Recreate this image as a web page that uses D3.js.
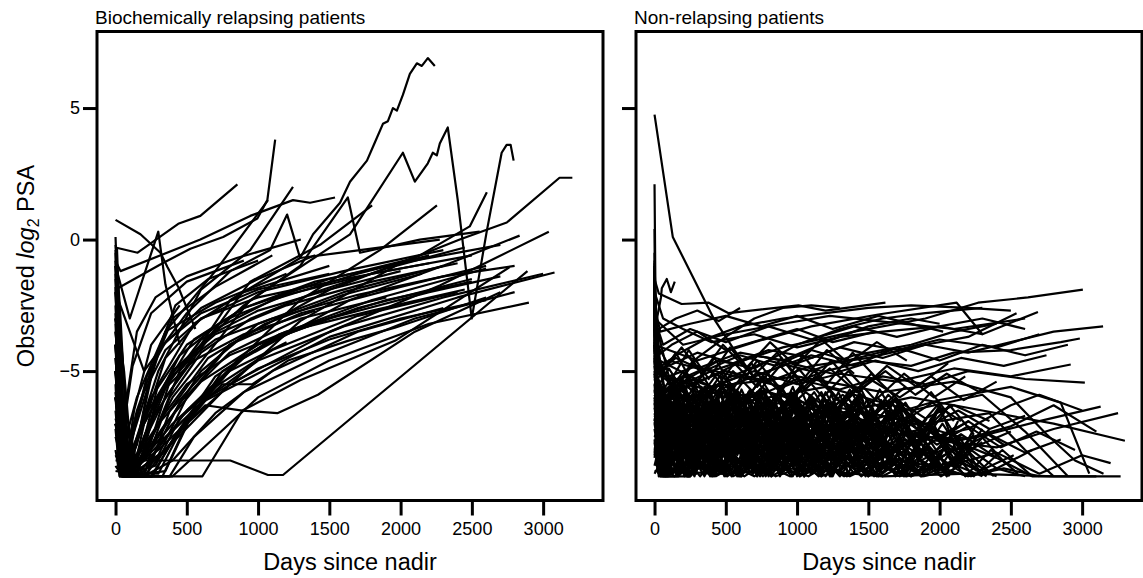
<!DOCTYPE html>
<html lang="en">
<head>
    <meta charset="UTF-8">
    <title>Observed log2 PSA by days since nadir</title>

    <!-- Load d3.js -->
    <script src="https://d3js.org/d3.v7.min.js"></script>

    <style>
        body { margin: 0; background: #ffffff; }
        svg text { font-family: "Liberation Sans", Arial, sans-serif; fill: #000000; }
    </style>
</head>
<body>

<div id="chart"></div>

<script>

    // ---- tick labels / titles ----
    var xTicks = [0, 500, 1000, 1500, 2000, 2500, 3000];
    var yTicks = [-5, 0, 5];
    var panelTitles = ["Biochemically relapsing patients", "Non-relapsing patients"];
    var xTitle = "Days since nadir";

    // ---- one array per patient: [days since nadir, observed log2 PSA] ----
    var relapsingPatients = [
        [[0,-3.5],[100,-8.8],[245,-6.9],[805,-2.3],[1295,-0.7],[1386,0.2],[1575,1.4],[1645,2.2],[1764,3.0],[1820,3.7],[1876,4.4],[1911,4.5],[1946,5.0],[1974,4.9],[2016,5.5],[2065,6.3],[2114,6.7],[2149,6.6],[2191,6.9],[2240,6.6]],
        [[0,-5],[120,-8.9],[400,-6],[945,-2.3],[1645,0.2],[2016,3.3],[2100,2.2],[2191,2.9],[2226,3.3],[2254,3.2],[2275,3.65],[2331,4.26],[2401,1.5],[2499,-3.0],[2604,0.3],[2709,3.3],[2744,3.6],[2772,3.6],[2793,3.0]],
        [[0,-1.9],[330,-0.9],[525,-0.35],[755,0.1],[995,0.8],[1065,1.5],[1120,3.8]],
        [[0,0.75],[175,0.2],[315,-0.5],[365,-1.05],[440,-1.8],[560,-3.4]],
        [[0,-0.3],[155,-0.5],[440,0.6],[595,0.9],[855,2.1]],
        [[0,-4],[90,-8],[350,-3.5],[700,-1.2],[1070,1.5]],
        [[0,-6],[60,-9],[300,-5],[600,-1.9],[945,-0.4],[1245,2.0]],
        [[0,-2],[200,-5],[500,-2.8],[805,-1.2],[1085,-0.4],[1204,0.95],[1295,-0.7],[1715,-0.4],[2275,0]],
        [[0,-0.8],[35,-1.2],[595,0],[945,0.9],[1245,1.5],[1365,1.4],[1540,1.6]],
        [[0,-6],[100,-9],[400,-5],[900,-2.5],[1295,-1],[1630,1.6],[1715,-0.5],[2135,0],[2555,0.3]],
        [[0,-7],[80,-9],[350,-6],[945,-1.6],[1435,-0.2],[1800,1.3]],
        [[0,-5],[150,-9],[500,-6.5],[1295,-2.3],[1855,-0.4],[2255,1.3]],
        [[0,-4],[60,-9],[300,-7],[800,-4],[1505,-1.9],[2135,-0.6],[2485,0.5],[2605,1.8]],
        [[0,-7],[200,-9],[500,-7],[1295,-3.1],[1995,-0.9],[2415,0],[2745,0.65],[3115,2.35],[3205,2.35]],
        [[0,-3],[100,-9],[350,-8],[800,-5.5],[1505,-3.5],[2275,-1.75],[3040,0.3]],
        [[0,-8.4],[805,-8.4],[1070,-8.95],[1175,-8.95],[2890,-1.2]],
        [[0,-6],[90,-9],[400,-7],[900,-4.5],[1645,-2.3],[2345,-0.9],[2835,0.15]],
        [[0,-7],[105,-9],[610,-9],[890,-6.5],[1295,-5.35],[1960,-3.85],[2765,-1.05]],
        [[0,-5],[80,-9],[600,-6.2],[1500,-3.7],[2400,-2.2],[3080,-1.25]],
        [[0,-5],[60,-9],[300,-8],[630,-6.3],[890,-6.5],[1135,-6.6],[1420,-5.9],[2100,-3.5],[2700,-2]],
        [[0,-4],[50,-8.5],[350,-7.5],[750,-5.5],[960,-5.5],[1210,-4.6],[1630,-3.85],[1960,-3.35],[2600,-2.2]],
        [[0,-2.5],[40,-7],[120,-9],[300,-7.5],[600,-5],[1000,-3.2],[1600,-2],[2300,-1]],
        [[0,-1],[30,-5],[70,-9],[250,-6],[500,-4],[900,-2.6],[1400,-1.6],[2000,-0.9],[2700,-0.2]],
        [[0,-4.5],[60,-8.9],[200,-8.9],[450,-6.2],[800,-4.3],[1300,-3],[1900,-2.2]],
        [[0,-6.5],[40,-9],[330,-9],[500,-7],[750,-5],[1100,-3.8],[1700,-2.6],[2500,-1.5]],
        [[0,-0.5],[20,-4],[50,-8],[150,-6],[350,-3.5],[700,-2.4],[1200,-1.3]],
        [[0,-3],[50,-6],[100,-9],[260,-9],[400,-7.6],[700,-5.2],[1150,-3.6],[1800,-2.3],[2600,-1.1]],
        [[0,-7.5],[70,-9],[180,-8],[300,-5.5],[550,-3.2],[900,-2],[1500,-1]],
        [[0,-5.5],[30,-9],[150,-7.8],[250,-5],[400,-3],[700,-1.8],[1100,-0.6]],
        [[0,-8.2],[90,-9],[380,-9],[550,-7.5],[900,-5.8],[1400,-4.5],[2100,-3],[2800,-2]],
        [[0,-2],[60,-8.5],[160,-9],[350,-8],[600,-6.2],[1000,-4.6],[1600,-3.3],[2300,-2.2],[3000,-1.3]],
        [[0,-1.5],[25,-3.5],[60,-7],[120,-4.8],[250,-2.8],[500,-1.6],[900,-0.8]],
        [[0,-4],[50,-9],[220,-9],[380,-6.5],[650,-4.5],[1050,-3.2],[1600,-2.1],[2150,-1.3]],
        [[0,-6],[40,-9],[120,-9],[200,-7],[400,-5],[700,-3.6],[1200,-2.5],[1800,-1.6],[2400,-0.9]],
        [[0,-3.5],[80,-9],[400,-9],[600,-8],[1000,-6],[1500,-4.6],[2200,-3.2],[2900,-2.4]],
        [[0,-7],[60,-8.5],[150,-6.5],[300,-4.2],[600,-2.6],[1000,-1.5],[1400,-0.6]],
        [[0,-5],[40,-9],[280,-8.6],[450,-6.8],[700,-5.6],[1100,-4.2],[1700,-2.9],[2400,-2]],
        [[0,-0.2],[30,-2.5],[70,-6.5],[160,-8.8],[300,-6],[550,-3.8],[900,-2.6],[1500,-1.5],[2100,-0.7]],
        [[0,-8.6],[50,-9],[250,-9],[420,-7.5],[650,-6],[1000,-4.9],[1500,-3.8],[2000,-3],[2600,-2.3]],
        [[0,-2],[50,-4.5],[90,-8.5],[200,-7],[350,-4.5],[600,-3],[1000,-2],[1600,-1.2],[2300,-0.4]],
        [[0,-6.8],[100,-9],[300,-8.2],[500,-6],[800,-4],[1300,-2.8],[2000,-1.8],[2600,-1]],
        [[0,-4],[30,-8],[80,-9],[180,-7.2],[320,-5.8],[550,-4.6],[900,-3.6],[1400,-2.7]],
        [[0,-1],[40,-6],[90,-9],[230,-8],[380,-5.4],[600,-3.8],[1000,-2.7],[1500,-1.9],[2000,-1.2]],
        [[0,-7],[50,-9],[350,-8.8],[550,-6.5],[850,-4.6],[1250,-3.4],[1900,-2.3],[2500,-1.6]],
        [[0,-3],[60,-5],[120,-8.9],[300,-8.9],[480,-7],[800,-5],[1200,-3.9]],
        [[0,-5],[35,-8],[80,-6],[150,-3.5],[280,-2.2],[500,-1.4],[850,-0.7],[1300,0]],
        [[0,-8],[30,-9],[200,-9],[260,-7.8],[380,-6],[600,-4.3],[950,-3],[1400,-2],[1900,-1.1],[2450,-0.3]],
        [[0,-2.8],[40,-8.5],[100,-9],[200,-8],[320,-6.8],[500,-5.5],[800,-4.4],[1200,-3.5],[1800,-2.7],[2450,-1.9]],
        [[0,-6],[70,-9],[140,-7],[220,-5.2],[350,-3.9],[600,-2.8],[1000,-1.9],[1500,-1.3]],
        [[0,-4.5],[50,-8.2],[130,-9],[300,-7],[450,-5],[700,-3.4],[1100,-2.3],[1700,-1.3],[2200,-0.6]],
        [[0,-1.8],[20,-5],[60,-9],[110,-7.5],[200,-5.8],[350,-4.2],[600,-3],[1000,-2.2],[1600,-1.5],[2200,-0.9]],
        [[0,-7.2],[30,-9],[100,-8.2],[220,-6.6],[400,-5],[700,-3.8],[1100,-3],[1700,-2.1],[2300,-1.4],[2800,-1]],
        [[0,-3.2],[30,-7.5],[60,-9],[150,-9],[280,-6.2],[450,-4.4],[750,-3.1],[1200,-2.1],[1800,-1.3],[2500,-0.6]],
        [[0,-0.4],[15,-3],[40,-7.8],[90,-9],[180,-7],[280,-4.5],[420,-2.5],[650,-1.5],[1000,-0.8]],
        [[0,-5.8],[60,-9],[160,-8.5],[350,-7],[600,-5.4],[1000,-4],[1500,-3],[2200,-2],[2700,-1.4]],
        [[0,-8.8],[200,-9],[400,-8.4],[700,-6.6],[1100,-5],[1700,-3.5],[2300,-2.6]],
        [[0,0.1],[20,-3],[45,-7],[80,-9],[150,-8.5]],
        [[0,-0.8],[25,-6],[50,-9],[120,-9],[200,-7.5],[350,-5.5],[600,-4]],
        [[10,-0.3],[35,-4],[70,-8.8],[130,-6.5],[250,-4],[450,-2.5]],
        [[0,-1.3],[15,-8],[40,-5],[60,-8.9],[110,-9]],
        [[0,-1],[100,-3],[300,0.3],[350,-1.7],[450,-4]]
    ];

    var nonRelapsingPatients = [
        [[0,4.75],[128,0.1],[415,-3.0],[560,-4.2],[750,-5.6],[1000,-6.5]],
        [[0,2.1],[8,-3],[20,-7],[100,-8.5],[300,-8.9]],
        [[0,-3.5],[45,-2.2],[51,-1.85],[86,-1.5],[115,-2.0],[142,-1.6]],
        [[0,-1.5],[30,-2.05],[190,-2.45],[380,-2.4],[520,-2.8],[1010,-2.5],[1200,-2.7],[1620,-2.4]],
        [[0,-4],[300,-4.6],[700,-3.9],[1100,-3.3],[1570,-2.85],[2120,-2.4],[2300,-3.6],[2690,-2.75]],
        [[0,-6],[400,-5],[900,-4.1],[1400,-3.5],[1900,-3.0],[2270,-2.4],[2620,-2.2],[3005,-1.9]],
        [[0,-2],[60,-3],[200,-3.4],[400,-3.9],[700,-3.6],[1000,-4.1],[1300,-3.7],[1600,-3.5],[2000,-3.3],[2300,-3.6]],
        [[0,-5],[150,-4.4],[350,-3.8],[600,-3.3],[900,-3.0],[1200,-2.8],[1500,-2.6],[1800,-2.5],[2200,-2.6],[2500,-2.7]],
        [[0,-1],[20,-4],[100,-4.8],[300,-4.3],[550,-4.7],[800,-4.2],[1100,-4.5],[1400,-3.9],[1700,-4.2],[2000,-3.8],[2400,-4.1],[2700,-3.6]],
        [[0,-6],[200,-5.4],[450,-4.6],[700,-4.9],[1000,-4.0],[1300,-3.4],[1600,-3.0],[1900,-2.8],[2300,-2.6]],
        [[0,-3],[100,-5.2],[300,-4.8],[500,-5.3],[800,-4.6],[1100,-5.0],[1400,-4.4],[1800,-4.0],[2100,-3.5],[2400,-3.2]],
        [[0,-4],[80,-6],[250,-5.5],[500,-5.0],[800,-5.4],[1100,-4.8],[1500,-4.5],[1900,-4.0],[2200,-3.7],[2540,-2.8]],
        [[0,-2.5],[40,-3.5],[250,-3.2],[500,-2.9],[750,-3.3],[1000,-2.9],[1250,-3.4],[1570,-2.9],[2025,-3.5]],
        [[0,-3],[200,-4],[500,-3.6],[900,-3.2],[1230,-2.9],[1570,-3.1],[2100,-3.4],[2600,-3.0]],
        [[0,-6.5],[150,-5.8],[400,-5.2],[700,-4.4],[1000,-4.7],[1300,-4.1],[1600,-4.5],[1900,-4.0],[2200,-4.3],[2500,-3.9],[2800,-3.5],[3147,-3.3]],
        [[0,-5],[300,-5.8],[600,-5.2],[900,-5.6],[1200,-5.0],[1500,-4.6],[1800,-4.8],[2100,-4.3],[2500,-4.2],[2850,-3.9],[2984,-3.76]],
        [[0,-7],[100,-6],[300,-4.5],[500,-3.7],[700,-3.0],[900,-2.6],[1100,-2.5],[1300,-2.6]],
        [[0,-3.5],[150,-3.0],[300,-2.7],[450,-3.1],[600,-2.6]],
        [[0,-4.5],[120,-4.0],[300,-3.5],[500,-4.2],[750,-3.8],[1000,-3.4],[1250,-3.9],[1550,-3.5]],
        [[0,-8],[200,-6.4],[500,-5.6],[800,-5.0],[1100,-4.4],[1400,-4.8],[1700,-4.1],[2000,-4.6],[2300,-4.0],[2600,-4.4],[2900,-4.0]],
        [[0,-5.5],[100,-4.6],[300,-4.9],[600,-4.3],[900,-4.6],[1200,-3.9],[1500,-3.3],[1800,-3.0],[2000,-3.2]],
        [[0,-6],[200,-5.2],[400,-5.6],[700,-5.0],[1000,-5.5],[1300,-5.1],[1700,-5.4],[2100,-4.9],[2500,-5.2],[2920,-4.75]],
        [[0,-2],[30,-5],[150,-4.5],[350,-5],[600,-4.4],[850,-4.8],[1100,-4.2],[1350,-4.6],[1650,-4.2]],
        [[0,-7.5],[150,-6.2],[400,-5.7],[700,-6.0],[1000,-5.3],[1300,-5.7],[1600,-5.2],[1900,-5.5],[2200,-5.0],[2600,-5.3],[3019,-5.44]],
        [[0,-3],[60,-4],[250,-3.4],[500,-3.9],[800,-3.3],[1100,-3.8],[1400,-3.3],[1700,-3.7],[2000,-3.3],[2300,-3.0],[2600,-3.4]],
        [[0,-4],[100,-5.5],[350,-4.9],[650,-5.3],[950,-4.7],[1250,-5.1],[1550,-4.6],[1850,-5.0],[2150,-4.5],[2450,-4.8],[2750,-4.4]],
        [[0,-3.4],[40,-5.2],[150,-4.3],[280,-5.6],[420,-4.5],[570,-5.8],[720,-4.6],[880,-5.7],[1040,-4.4],[1210,-5.5],[1390,-4.3],[1580,-5.4]],
        [[0,-5.8],[100,-4.9],[230,-6.0],[370,-4.8],[520,-5.9],[680,-4.7],[840,-6.1],[1010,-4.9],[1180,-6.0],[1360,-5.0],[1550,-6.1],[1750,-5.1],[1960,-6.0],[2180,-5.2]],
        [[0,-2.8],[20,-4.6],[110,-5.4],[240,-4.2],[380,-5.3],[530,-4.1],[690,-5.2],[860,-4.3],[1030,-5.4],[1210,-4.2],[1400,-5.1]],
        [[0,-6.4],[140,-5.3],[290,-6.2],[440,-5.1],[600,-6.3],[770,-5.2],[940,-6.1],[1120,-5.0],[1310,-6.2],[1510,-5.3],[1720,-6.0],[1940,-5.2],[2170,-6.1],[2400,-5.4]],
        [[0,-4.3],[60,-5.0],[190,-4.1],[330,-5.1],[480,-4.0],[640,-4.9],[810,-3.9],[990,-4.8],[1170,-3.8],[1360,-4.7],[1560,-3.9],[1770,-4.6]],
        [[0,-5.1],[80,-6.1],[200,-5.0],[330,-6.2],[470,-5.1],[620,-6.3],[780,-5.0],[950,-6.1],[1130,-5.2],[1320,-6.3],[1520,-5.1],[1730,-6.2]],
        [[0,-3.9],[30,-4.8],[140,-5.7],[270,-4.6],[410,-5.8],[560,-4.7],[720,-5.6],[890,-4.5],[1060,-5.7],[1240,-4.6],[1430,-5.8],[1630,-4.8],[1840,-5.6],[2060,-4.7]],
        [[0,-6.9],[120,-5.9],[260,-5.2],[400,-6.1],[550,-5.0],[710,-5.9],[880,-4.8],[1050,-5.7],[1230,-4.9],[1420,-5.8],[1620,-5.0],[1830,-5.9],[2050,-5.1],[2280,-5.8]],
        [[0,-3],[30,-7.5],[150,-8.6],[300,-7.2],[450,-8.8],[600,-7.6],[800,-8.4],[1000,-7.0],[1200,-8.2],[1400,-7.4],[1600,-8.7],[1800,-7.8],[2000,-8.5]],
        [[0,-5],[50,-8.9],[200,-7.8],[350,-6.4],[500,-7.5],[700,-6.8],[900,-8.0],[1100,-6.6],[1300,-7.6],[1500,-6.9],[1700,-8.1],[1900,-7.2],[2200,-8.0],[2500,-7.3]],
        [[0,-1.5],[20,-6],[60,-9],[250,-9],[400,-8.2],[550,-9],[750,-8.5],[950,-9],[1150,-8.3],[1350,-9],[1550,-8.6],[1800,-9],[2100,-8.4],[2400,-9]],
        [[0,-6.5],[100,-7.4],[250,-6.2],[400,-7.0],[550,-5.9],[700,-6.8],[850,-6.0],[1000,-7.1],[1200,-6.3],[1400,-7.3],[1600,-6.4],[1800,-7.0]],
        [[0,-4],[40,-8],[120,-7],[250,-8.5],[400,-7.3],[550,-8.9],[700,-7.9],[900,-8.8],[1050,-7.5],[1250,-8.4],[1450,-7.2],[1650,-8.1],[1850,-7.4],[2050,-8.6],[2300,-7.7]],
        [[0,-7],[60,-9],[180,-8.1],[320,-9],[480,-7.8],[640,-8.6],[800,-7.4],[960,-8.3],[1120,-7.1],[1300,-8.0],[1480,-7.5],[1660,-8.8],[1850,-8.0],[2050,-8.9]],
        [[0,-2.5],[15,-5.5],[80,-6.6],[220,-5.8],[380,-6.9],[520,-6.2],[680,-7.3],[850,-6.4],[1020,-7.2],[1200,-6.1],[1380,-6.8],[1560,-6.0],[1750,-6.9],[1950,-6.2],[2150,-6.9]],
        [[0,-8],[80,-8.8],[200,-7.3],[350,-8.1],[500,-6.9],[650,-7.8],[820,-6.7],[1000,-7.7],[1180,-8.9],[1350,-7.9],[1520,-8.5],[1700,-7.6],[1880,-8.3]],
        [[0,-3.5],[25,-7],[100,-6.2],[200,-7.8],[330,-6.6],[460,-7.9],[600,-7.2],[760,-8.3],[920,-7.4],[1080,-8.6],[1240,-7.7],[1400,-8.9],[1600,-8.1],[1800,-9],[2000,-8.3],[2200,-9]],
        [[0,-5.8],[90,-6.8],[230,-6.0],[370,-7.1],[520,-6.5],[670,-5.8],[830,-6.7],[990,-6.0],[1150,-6.6],[1320,-5.9],[1500,-6.7],[1700,-6.1],[1900,-6.8],[2100,-6.3],[2350,-6.9]],
        [[0,-1],[10,-4],[30,-8.5],[140,-9],[260,-8.4],[400,-9],[540,-8.2],[690,-8.9],[840,-8.0],[1000,-8.8],[1160,-7.9],[1330,-8.7],[1500,-7.8],[1680,-8.5]],
        [[0,-7.5],[120,-6.5],[260,-7.6],[400,-6.3],[540,-7.4],[690,-6.5],[850,-7.6],[1010,-6.8],[1170,-7.8],[1350,-6.9],[1530,-7.9],[1720,-7.0],[1920,-7.8],[2120,-7.1]],
        [[0,-4.5],[30,-8.8],[110,-8.0],[230,-9],[360,-8.3],[500,-9],[650,-8.0],[820,-8.9],[980,-8.1],[1150,-9],[1320,-8.2],[1500,-9],[1690,-8.4],[1880,-9],[2080,-8.5],[2300,-9]],
        [[0,-6],[50,-7.2],[150,-6.4],[280,-7.5],[420,-6.8],[560,-8.0],[710,-7.1],[870,-8.2],[1030,-7.3],[1190,-8.0],[1360,-7.0],[1540,-7.7],[1730,-6.8],[1930,-7.5]],
        [[0,-2],[40,-4.8],[90,-6.2],[200,-5.6],[340,-6.6],[480,-5.8],[630,-6.9],[780,-6.2],[940,-7.2],[1100,-6.4],[1270,-7.4],[1440,-6.5],[1620,-7.4],[1800,-6.7],[2000,-7.6],[2200,-6.9],[2450,-7.8]],
        [[0,-8.5],[100,-9],[220,-8.0],[350,-8.7],[480,-7.7],[620,-8.6],[760,-7.6],[910,-8.4],[1070,-7.4],[1230,-8.3],[1400,-7.3],[1580,-8.2],[1760,-7.3],[1950,-8.1],[2150,-7.4],[2400,-8.3]],
        [[0,-5],[70,-5.8],[180,-5.2],[310,-6.1],[450,-5.5],[590,-6.4],[740,-5.7],[900,-6.6],[1060,-5.8],[1230,-6.5],[1400,-5.7],[1580,-6.4],[1760,-5.6]],
        [[0,-3],[20,-6.5],[70,-7.8],[190,-7.0],[320,-8.2],[460,-7.4],[600,-8.5],[750,-7.5],[900,-8.6],[1060,-7.6],[1220,-8.4],[1390,-7.5],[1570,-8.3],[1760,-7.6],[1960,-8.4],[2170,-7.8],[2400,-8.7],[2650,-8.0]],
        [[0,-6.8],[80,-8.2],[200,-7.4],[330,-8.6],[460,-7.8],[600,-9],[750,-8.2],[910,-8.8],[1070,-7.9],[1240,-8.7],[1420,-7.9],[1600,-8.9],[1790,-8.1],[1990,-8.8],[2200,-8.2]],
        [[0,-4],[30,-6.8],[130,-6.3],[260,-7.1],[390,-6.4],[530,-7.3],[680,-6.6],[840,-7.5],[1000,-6.7],[1170,-7.4],[1350,-6.5],[1530,-7.2],[1720,-6.4],[1920,-7.1],[2130,-6.5],[2350,-7.2],[2600,-6.7]],
        [[0,-7.8],[150,-8.9],[300,-8.0],[450,-8.8],[600,-7.9],[760,-8.6],[920,-7.8],[1090,-8.7],[1260,-7.9],[1440,-8.6],[1630,-7.8],[1830,-8.5],[2050,-7.9],[2280,-8.8],[2520,-8.2]],
        [[0,-2.2],[15,-5],[50,-7.2],[160,-6.6],[290,-7.7],[420,-6.9],[560,-7.9],[710,-7.0],[870,-8.1],[1030,-7.2],[1200,-8.2],[1380,-7.3],[1560,-8.0]],
        [[0,-5.5],[60,-6.3],[170,-5.8],[300,-6.7],[430,-6.1],[570,-7.0],[720,-6.3],[880,-7.2],[1040,-6.5],[1210,-7.3],[1390,-6.6],[1580,-7.4],[1780,-6.7],[1990,-7.5],[2210,-6.9]],
        [[0,-6.2],[40,-9],[160,-9],[280,-8.5],[410,-9],[550,-8.6],[700,-9],[860,-8.5],[1020,-9],[1190,-8.6],[1370,-9],[1560,-8.5],[1760,-9],[1970,-8.6],[2200,-9],[2450,-8.7],[2700,-9]],
        [[0,-3.8],[25,-6],[100,-5.4],[220,-6.3],[350,-5.7],[490,-6.6],[640,-5.9],[800,-6.8],[960,-6.0],[1130,-6.9],[1310,-6.1],[1500,-6.8],[1700,-6.0]],
        [[0,-7.2],[100,-7.9],[230,-7.2],[370,-8.3],[510,-7.5],[660,-8.5],[820,-7.6],[980,-8.4],[1150,-7.5],[1330,-8.2],[1510,-7.3],[1700,-8.0],[1900,-7.2],[2120,-8.0],[2350,-7.4],[2600,-8.1],[2850,-7.6]],
        [[0,-4.8],[50,-7.5],[150,-6.9],[280,-8.0],[410,-7.2],[550,-8.2],[700,-7.3],[860,-8.4],[1020,-7.5],[1190,-8.5],[1370,-7.6],[1560,-8.4],[1760,-7.6],[1970,-8.3]],
        [[0,-1.8],[12,-6],[40,-9],[120,-8.5],[240,-9],[370,-8.4],[510,-9],[660,-8.4],[820,-9],[990,-8.5],[1170,-9],[1360,-8.6],[1560,-9]],
        [[0,-6.5],[120,-6.0],[260,-6.8],[400,-6.2],[550,-7.1],[700,-6.4],[860,-7.3],[1030,-6.6],[1200,-7.5],[1380,-6.8],[1570,-7.7],[1770,-6.9],[1980,-7.8],[2200,-7.1],[2430,-7.9],[2680,-7.3],[2950,-8.0]],
        [[0,-8],[60,-7.2],[180,-8.4],[310,-7.6],[450,-8.8],[600,-8.0],[760,-9],[930,-8.1],[1100,-8.9],[1280,-8.0],[1470,-8.8],[1670,-8.0],[1880,-8.7],[2100,-8.0],[2330,-8.8]],
        [[0,-4],[20,-8.8],[90,-6.2],[170,-8.9],[260,-6.5],[350,-8.7],[440,-6.1],[540,-8.5],[640,-6.4],[750,-8.8],[860,-6.6],[980,-8.6],[1100,-6.8],[1230,-8.9]],
        [[0,-6],[70,-8.6],[150,-5.9],[240,-8.2],[330,-5.7],[430,-8.4],[530,-6.0],[640,-8.3],[750,-5.8],[870,-8.1],[990,-6.1],[1120,-8.4],[1250,-6.3],[1390,-8.6],[1530,-6.4],[1680,-8.5]],
        [[0,-2],[10,-6.5],[50,-9],[130,-6.8],[210,-8.7],[300,-6.6],[390,-8.9],[490,-7.0],[590,-9],[700,-6.9],[810,-8.8],[930,-7.1],[1050,-9],[1180,-7.2],[1310,-8.8],[1450,-7.0],[1600,-8.9],[1760,-7.3],[1920,-8.9],[2090,-7.4],[2260,-8.8]],
        [[0,-7],[50,-5.6],[130,-7.9],[220,-5.8],[310,-8.1],[410,-6.0],[510,-8.2],[620,-5.9],[730,-8.0],[850,-6.2],[970,-8.3],[1100,-6.1],[1230,-8.1],[1370,-6.3],[1520,-8.2],[1670,-6.2],[1830,-8.0],[2000,-6.4]],
        [[0,-3],[15,-7.2],[80,-8.9],[160,-7.0],[250,-9],[340,-7.3],[440,-8.8],[540,-6.9],[650,-8.7],[760,-7.1],[880,-9],[1000,-7.2],[1130,-8.8],[1270,-7.0],[1410,-8.6],[1560,-7.1],[1720,-8.9],[1890,-7.3],[2060,-8.7],[2240,-7.4]],
        [[0,-5.2],[60,-6.9],[140,-5.4],[230,-7.2],[330,-5.6],[430,-7.4],[540,-5.5],[650,-7.3],[770,-5.7],[890,-7.5],[1020,-5.6],[1150,-7.3],[1290,-5.8],[1430,-7.4],[1580,-5.7],[1740,-7.2]],
        [[0,-8.2],[40,-6.4],[110,-8.8],[200,-6.7],[290,-8.9],[380,-6.5],[480,-8.6],[580,-6.8],[690,-8.9],[800,-6.6],[920,-8.7],[1040,-6.9],[1170,-8.8],[1310,-6.7],[1450,-8.6],[1600,-6.9],[1760,-8.8],[1930,-7.0],[2110,-8.7],[2300,-7.2]],
        [[0,-1.4],[8,-5.5],[30,-7.6],[100,-6.1],[180,-8.0],[270,-6.3],[370,-8.2],[470,-6.2],[580,-8.0],[690,-6.4],[810,-8.3],[930,-6.5],[1060,-8.1],[1200,-6.6],[1340,-8.4],[1490,-6.8],[1650,-8.2]],
        [[0,-6.6],[90,-9],[180,-7.6],[280,-9],[380,-7.4],[490,-9],[600,-7.7],[720,-9],[840,-7.5],[970,-9],[1100,-7.8],[1240,-9],[1390,-7.6],[1540,-9],[1700,-7.9],[1870,-9],[2050,-7.8],[2240,-9],[2440,-8.0],[2650,-9]],
        [[0,-4.2],[30,-5.6],[100,-7.0],[190,-5.5],[290,-7.2],[390,-5.8],[500,-7.4],[610,-5.7],[730,-7.1],[850,-5.9],[980,-7.3],[1110,-6.0],[1250,-7.4],[1400,-6.1],[1560,-7.5],[1720,-6.2],[1890,-7.3],[2070,-6.3]],
        [[0,-5.5],[40,-8.5],[110,-6.0],[190,-8.7],[270,-6.3],[360,-8.9],[450,-6.1],[540,-8.4],[630,-6.6],[730,-8.8],[830,-6.2],[930,-8.6],[1040,-6.5],[1150,-8.9],[1260,-6.4],[1380,-8.5],[1500,-6.7],[1620,-8.8]],
        [[0,-7.8],[60,-5.8],[140,-7.9],[220,-5.6],[310,-8.2],[400,-5.9],[490,-8.0],[580,-5.7],[680,-8.3],[780,-6.0],[880,-8.1],[990,-5.8],[1100,-8.4],[1210,-6.1],[1330,-8.2],[1450,-5.9],[1580,-8.3],[1710,-6.2],[1850,-8.4],[2000,-6.3],[2150,-8.5]],
        [[0,-2.6],[10,-7.4],[70,-9],[150,-7.3],[230,-9],[320,-7.6],[410,-9],[500,-7.2],[600,-9],[700,-7.5],[800,-9],[910,-7.4],[1020,-9],[1130,-7.7],[1250,-9],[1370,-7.5],[1500,-9],[1630,-7.8],[1770,-9],[1920,-7.9],[2070,-9]],
        [[0,-6.4],[50,-8.0],[120,-5.7],[200,-7.8],[280,-5.9],[370,-8.1],[460,-5.6],[560,-7.9],[660,-5.8],[760,-8.2],[870,-5.7],[980,-8.0],[1090,-5.9],[1210,-8.3],[1330,-6.0],[1460,-8.1],[1590,-6.1],[1730,-8.2]],
        [[0,-3.2],[20,-6.2],[90,-8.3],[170,-6.4],[250,-8.6],[340,-6.2],[430,-8.8],[520,-6.5],[620,-8.5],[720,-6.3],[820,-8.7],[930,-6.6],[1040,-8.9],[1150,-6.4],[1270,-8.6],[1390,-6.7],[1520,-8.8],[1650,-6.5],[1790,-8.7],[1940,-6.8],[2100,-8.6],[2260,-7.0]],
        [[0,-8.6],[70,-7.0],[150,-8.9],[240,-7.1],[330,-8.7],[420,-6.9],[520,-8.8],[620,-7.2],[720,-9],[830,-7.0],[940,-8.8],[1050,-7.3],[1170,-9],[1290,-7.1],[1420,-8.9],[1550,-7.4],[1690,-9],[1830,-7.3],[1980,-8.9],[2140,-7.5],[2300,-9]],
        [[0,-4.6],[30,-6.0],[100,-7.6],[180,-5.8],[260,-7.5],[350,-5.6],[440,-7.7],[540,-5.9],[640,-7.4],[740,-5.7],[850,-7.6],[960,-5.8],[1070,-7.8],[1190,-6.0],[1310,-7.6],[1440,-5.9],[1570,-7.7]],
        [[0,-7.2],[50,-8.9],[130,-7.6],[210,-9],[300,-7.8],[390,-9],[480,-7.5],[580,-9],[680,-7.7],[780,-9],[890,-7.6],[1000,-9],[1110,-7.9],[1230,-9],[1350,-7.7],[1480,-9],[1610,-8.0],[1750,-9],[1900,-7.9],[2050,-9],[2210,-8.1],[2380,-9]],
        [[0,-1.6],[6,-5],[25,-7.8],[90,-5.9],[160,-7.9],[240,-6.1],[320,-8.1],[410,-6.0],[500,-7.8],[600,-6.2],[700,-8.0],[800,-6.1],[910,-8.2],[1020,-6.3],[1140,-8.0],[1260,-6.2],[1390,-8.1]],
        [[0,-5.9],[80,-7.3],[160,-6.0],[250,-7.6],[340,-6.2],[430,-7.4],[530,-5.9],[630,-7.7],[730,-6.1],[840,-7.5],[950,-6.0],[1060,-7.8],[1180,-6.2],[1300,-7.6],[1430,-6.1],[1560,-7.9],[1700,-6.3],[1840,-7.7],[1990,-6.4],[2150,-7.8]],
        [[0,-3.6],[15,-8.0],[80,-6.8],[150,-8.8],[230,-6.9],[310,-8.6],[400,-6.7],[490,-8.9],[590,-7.0],[690,-8.7],[790,-6.8],[900,-8.8],[1010,-7.1],[1120,-8.6],[1240,-6.9],[1360,-8.9],[1490,-7.2],[1620,-8.7],[1760,-7.0],[1900,-8.8]],
        [[0,-8.9],[90,-8.0],[170,-9],[260,-8.2],[350,-9],[440,-8.1],[540,-9],[640,-8.3],[740,-9],[850,-8.2],[960,-9],[1080,-8.4],[1200,-9],[1320,-8.3],[1450,-9],[1580,-8.5],[1720,-9],[1860,-8.4],[2010,-9],[2170,-8.5],[2330,-9]],
        [[0,-6.9],[40,-5.5],[110,-6.9],[190,-5.4],[270,-7.0],[360,-5.6],[450,-6.8],[550,-5.5],[650,-7.1],[750,-5.7],[860,-6.9],[970,-5.6],[1080,-7.2],[1200,-5.8],[1320,-7.0],[1450,-5.7],[1580,-7.1]],
        [[0,-2.9],[12,-6.6],[60,-8.6],[140,-7.2],[220,-8.8],[300,-7.4],[390,-8.5],[480,-7.1],[570,-8.7],[670,-7.3],[770,-8.9],[870,-7.2],[980,-8.6],[1090,-7.4],[1210,-8.8],[1330,-7.3],[1460,-8.7],[1590,-7.5],[1730,-8.9],[1880,-7.6],[2030,-8.8],[2190,-7.7]],
        [[0,-5.1],[60,-7.7],[140,-6.3],[220,-8.0],[310,-6.5],[400,-8.2],[490,-6.2],[590,-7.9],[690,-6.4],[790,-8.1],[900,-6.3],[1010,-8.3],[1120,-6.6],[1240,-8.0],[1360,-6.5],[1490,-8.2],[1620,-6.7],[1760,-8.1],[1910,-6.8]],
        [[0,-7.6],[30,-9],[100,-8.4],[180,-6.8],[260,-8.6],[350,-6.9],[440,-8.8],[530,-7.1],[630,-8.5],[730,-6.8],[840,-8.7],[950,-7.0],[1060,-8.9],[1180,-7.2],[1300,-8.6],[1430,-7.0],[1560,-8.8],[1700,-7.3],[1850,-8.7]],
        [[0,-4.1],[25,-5.9],[90,-6.8],[170,-5.7],[250,-7.0],[340,-5.9],[430,-6.7],[520,-5.6],[620,-6.9],[720,-5.8],[830,-7.1],[940,-6.0],[1050,-6.8],[1170,-5.8],[1290,-7.0],[1420,-6.0],[1550,-6.9],[1690,-6.1],[1840,-7.2],[2000,-6.2]],
        [[0,-6.1],[70,-8.7],[150,-7.5],[230,-8.9],[320,-7.6],[410,-8.8],[510,-7.4],[610,-9],[710,-7.7],[820,-8.8],[930,-7.5],[1050,-9],[1170,-7.8],[1290,-8.9],[1420,-7.6],[1560,-9],[1700,-7.9],[1850,-8.8],[2010,-7.8],[2180,-9],[2360,-8.0],[2550,-8.9]],
        [[0,-0.9],[5,-4.5],[18,-7],[70,-8.1],[140,-6.6],[220,-8.3],[300,-6.8],[390,-8.5],[480,-6.6],[580,-8.2],[680,-6.9],[790,-8.4],[900,-6.7],[1010,-8.6],[1130,-6.9],[1250,-8.3],[1380,-7.0],[1510,-8.5]],
        [[0,-8.3],[60,-6.2],[140,-8.4],[220,-6.4],[310,-8.6],[400,-6.1],[500,-8.3],[600,-6.3],[700,-8.5],[810,-6.2],[920,-8.7],[1030,-6.5],[1150,-8.4],[1270,-6.4],[1400,-8.6],[1530,-6.6],[1670,-8.5],[1820,-6.7],[1970,-8.6],[2130,-6.9]],
        [[0,-5.3],[50,-6.5],[130,-5.5],[210,-6.6],[290,-5.6],[380,-6.8],[470,-5.5],[570,-6.7],[670,-5.7],[780,-6.9],[890,-5.6],[1000,-6.6],[1120,-5.8],[1240,-6.8],[1370,-5.7],[1500,-6.9],[1640,-5.9],[1790,-6.7],[1940,-5.8],[2100,-6.9]],
        [[0,-4.4],[20,-7.0],[80,-9],[160,-7.9],[240,-9],[330,-8.0],[420,-9],[510,-7.8],[610,-9],[710,-8.1],[820,-9],[930,-7.9],[1050,-9],[1170,-8.2],[1300,-9],[1430,-8.0],[1570,-9],[1720,-8.3],[1870,-9],[2030,-8.2]],
        [[0,-6.7],[100,-7.8],[180,-6.6],[270,-7.9],[360,-6.8],[450,-8.1],[550,-6.7],[650,-7.8],[750,-6.9],[860,-8.0],[970,-6.8],[1080,-8.2],[1200,-7.0],[1320,-8.0],[1450,-6.9],[1580,-8.1],[1720,-7.1],[1870,-8.2],[2020,-7.0],[2180,-8.3],[2350,-7.2]],
        [[0,-2.4],[8,-5.8],[40,-6.9],[110,-5.6],[190,-7.1],[270,-5.8],[360,-7.3],[450,-5.7],[550,-7.0],[650,-5.9],[760,-7.2],[870,-5.8],[980,-7.4],[1100,-6.0],[1220,-7.1],[1350,-5.9],[1480,-7.3],[1620,-6.1]],
        [[0,-7.9],[80,-9],[160,-8.6],[250,-9],[340,-8.5],[430,-9],[530,-8.7],[630,-9],[740,-8.6],[850,-9],[960,-8.8],[1080,-9],[1200,-8.6],[1330,-9],[1460,-8.7],[1600,-9],[1740,-8.6],[1890,-9],[2050,-8.8],[2220,-9],[2400,-8.7],[2600,-9]],
        [[0,-3.9],[30,-6.4],[100,-7.9],[180,-6.2],[260,-8.1],[350,-6.4],[440,-7.8],[540,-6.1],[640,-8.0],[740,-6.3],[850,-8.2],[960,-6.2],[1070,-7.9],[1190,-6.4],[1310,-8.1],[1440,-6.3],[1570,-8.2],[1710,-6.5],[1860,-8.0]],
        [[0,-6.3],[60,-5.7],[140,-7.2],[220,-5.9],[310,-7.4],[400,-6.1],[490,-7.1],[590,-5.8],[690,-7.3],[790,-6.0],[900,-7.5],[1010,-6.1],[1120,-7.2],[1240,-5.9],[1360,-7.4],[1490,-6.1],[1620,-7.3],[1760,-6.2],[1910,-7.5],[2070,-6.3],[2240,-7.4]],
        [[0,-1.1],[4,-5.2],[15,-8.6],[60,-7.4],[130,-8.9],[210,-7.6],[290,-8.7],[380,-7.3],[470,-8.9],[570,-7.5],[670,-8.6],[770,-7.4],[880,-8.8],[990,-7.6],[1110,-8.7],[1230,-7.5],[1360,-8.9]],
        [[0,-5.7],[50,-8.0],[130,-6.9],[210,-8.2],[300,-7.0],[390,-8.4],[480,-6.8],[580,-8.1],[680,-7.1],[790,-8.3],[900,-6.9],[1010,-8.5],[1130,-7.2],[1250,-8.2],[1380,-7.0],[1510,-8.4],[1650,-7.3],[1800,-8.3],[1950,-7.1],[2110,-8.4],[2280,-7.4],[2460,-8.5]],
        [[0,-8.1],[50,-6.7],[120,-5.8],[200,-7.0],[280,-6.0],[370,-7.2],[460,-5.9],[560,-7.0],[660,-6.1],[760,-7.3],[870,-6.0],[980,-7.1],[1090,-6.2],[1210,-7.4],[1330,-6.1],[1460,-7.2],[1600,-6.3],[1740,-7.4]],
        [[0,-6],[300,-7.2],[700,-6.5],[1200,-7.5],[1700,-6.8],[2200,-7.6],[2700,-6.9],[3130,-6.35]],
        [[0,-7],[400,-8.2],[900,-7.4],[1400,-8.4],[1900,-7.6],[2400,-7.9],[2800,-7.2],[3252,-6.6]],
        [[0,-5],[350,-6.4],[800,-5.8],[1300,-6.6],[1800,-6.0],[2300,-6.5],[2800,-7.0],[3300,-7.65]],
        [[0,-8.8],[500,-8.9],[1000,-8.7],[1600,-9],[2200,-8.9],[2800,-9],[3270,-9]],
        [[0,-6],[400,-6.6],[900,-6.2],[1500,-6.9],[2000,-6.1],[2500,-5.6],[2850,-6.2],[3050,-8.9]],
        [[0,-5],[600,-6.2],[1200,-5.6],[1800,-6.5],[2300,-5.9],[2600,-7.3],[2900,-9]],
        [[0,-7],[500,-7.9],[1100,-7.1],[1700,-7.8],[2200,-7.2],[2500,-6.3],[2700,-5.9],[3000,-6.5]],
        [[0,-8],[700,-8.6],[1400,-8.0],[2000,-8.7],[2400,-8.1],[2700,-8.9],[3000,-8.2],[3200,-8.5]],
        [[0,-6.8],[800,-7.6],[1500,-7.0],[2100,-7.7],[2500,-7.1],[2800,-6.3],[3100,-7.3]],
        [[0,-4.5],[400,-5.6],[1000,-5.2],[1600,-5.8],[2100,-5.4],[2500,-6.0],[2750,-7.4],[2950,-8.4],[3150,-8.9]],
        [[0,-7.5],[600,-7.0],[1300,-7.8],[1900,-7.2],[2400,-8.3],[2650,-9],[3100,-9]],
        [[0,-6],[500,-6.9],[1200,-6.3],[1900,-7.0],[2350,-6.6],[2600,-8.0],[2800,-9]],
        [[0,-0.5],[5,-4],[15,-8],[60,-8.8]],
        [[0,-1.2],[8,-6],[30,-8.5],[100,-7.8]],
        [[0,0.4],[6,-5],[25,-8.9]],
        [[0,-2.8],[10,-7],[40,-8.2],[120,-8.9]],
        [[0,-0.8],[4,-3],[12,-6.5],[40,-8]]
    ];

    // ---- layout ----
    var width = 1143, height = 578;
    var plotTop = 31.5, plotBottom = 500.5;
    var xDomain = [-130, 3420];
    var yDomain = [-9.92, 7.91];

    var panels = [
        {left: 97, right: 603, title: panelTitles[0], patients: relapsingPatients, yLabels: true},
        {left: 636, right: 1142, title: panelTitles[1], patients: nonRelapsingPatients, yLabels: false}
    ];

    var svg = d3.select("#chart")
        .append("svg")
            .attr("width", width)
            .attr("height", height);

    function draw_panel(p) {

        var x = d3.scaleLinear().domain(xDomain).range([p.left, p.right]);
        var y = d3.scaleLinear().domain(yDomain).range([plotBottom, plotTop]);

        var line = d3.line()
            .x(function(d) { return x(d[0]); })
            .y(function(d) { return y(d[1]); });

        var g = svg.append("g");

        // Patient trajectories
        g.selectAll("path.patient")
            .data(p.patients)
            .enter()
            .append("path")
                .attr("class", "patient")
                .attr("d", line)
                .attr("fill", "none")
                .attr("stroke", "#000")
                .attr("stroke-width", 2.2)
                .attr("stroke-linejoin", "round");

        // Frame
        g.append("rect")
            .attr("x", p.left)
            .attr("y", plotTop)
            .attr("width", p.right - p.left)
            .attr("height", plotBottom - plotTop)
            .attr("fill", "none")
            .attr("stroke", "#000")
            .attr("stroke-width", 3);

        // X axis
        var gx = g.append("g")
            .attr("transform", "translate(0," + plotBottom + ")")
            .call(d3.axisBottom(x).tickValues(xTicks).tickFormat(d3.format("d"))
                .tickSize(15).tickSizeOuter(0).tickPadding(7));
        gx.select(".domain").remove();
        gx.selectAll(".tick line").attr("stroke-width", 3);
        gx.selectAll(".tick text")
            .attr("font-family", "Liberation Sans, Arial, sans-serif")
            .attr("font-size", 18);

        // Y axis (labels only on the left panel)
        var yAxis = d3.axisLeft(y).tickValues(yTicks).tickSize(14).tickSizeOuter(0).tickPadding(3);
        if (!p.yLabels) { yAxis.tickFormat(""); }
        var gy = g.append("g")
            .attr("transform", "translate(" + p.left + ",0)")
            .call(yAxis);
        gy.select(".domain").remove();
        gy.selectAll(".tick line").attr("stroke-width", 3);
        gy.selectAll(".tick text")
            .attr("font-family", "Liberation Sans, Arial, sans-serif")
            .attr("font-size", 18);

        // Panel title
        g.append("text")
            .attr("x", p.left - 2)
            .attr("y", 24)
            .attr("font-size", 19)
            .text(p.title);

        // X title
        g.append("text")
            .attr("x", (p.left + p.right) / 2)
            .attr("y", 570)
            .attr("text-anchor", "middle")
            .attr("font-size", 23.5)
            .text(xTitle);
    }

    panels.forEach(draw_panel);

    // Y title: Observed log2 PSA
    var yt = svg.append("text")
        .attr("transform", "translate(34,266) rotate(-90)")
        .attr("text-anchor", "middle")
        .attr("font-size", 23.5);
    yt.append("tspan").text("Observed ");
    yt.append("tspan").attr("font-style", "italic").text("log");
    yt.append("tspan").attr("font-size", 16).attr("dy", 5).text("2");
    yt.append("tspan").attr("dy", -5).text(" PSA");

</script>

</body>
</html>
